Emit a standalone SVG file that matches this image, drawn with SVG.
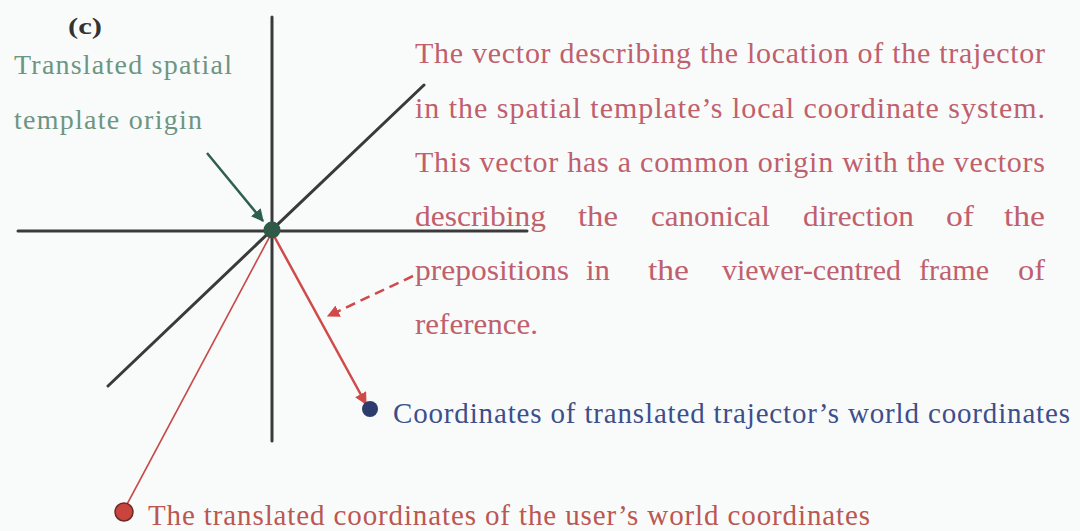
<svg xmlns="http://www.w3.org/2000/svg" width="1080" height="531" viewBox="0 0 1080 531">
<defs>
<style>
.axis{stroke:#3a3a3a;stroke-width:3;fill:none;stroke-linecap:round}
text{font-family:'Liberation Serif','Times New Roman',Times,serif}
.pink{fill:#c0606c;font-size:30px}
.green{fill:#6d9582;font-size:28px}
.blue{fill:#3d4f8a;font-size:29px}
.red{fill:#bb5752;font-size:29px}
</style>
<marker id="ahG" viewBox="0 0 10 10" refX="9" refY="5" markerWidth="5" markerHeight="5" orient="auto"><path d="M0,0 L10,5 L0,10 z" fill="#2f5f4f"/></marker>
<marker id="ahR" viewBox="0 0 10 10" refX="9" refY="5" markerWidth="5" markerHeight="5" orient="auto"><path d="M0,0 L10,5 L0,10 z" fill="#d04a4a"/></marker>
</defs>
<rect width="1080" height="531" fill="#f9fbfb"/>
<g id="axes">
<line class="axis" x1="272" y1="17" x2="272" y2="441"/>
<line class="axis" x1="18" y1="231" x2="527" y2="231"/>
<line class="axis" x1="108" y1="386" x2="424" y2="85"/>
</g>
<g id="connectors">
<line x1="207" y1="153" x2="263" y2="221" stroke="#2f5f4f" stroke-width="2.5" marker-end="url(#ahG)"/>
<line x1="270" y1="236" x2="124" y2="510" stroke="#c84a4a" stroke-width="1.6"/>
<line x1="274" y1="236" x2="366" y2="404" stroke="#d04a4a" stroke-width="2.5" marker-end="url(#ahR)"/>
<line x1="413" y1="276" x2="328" y2="316" stroke="#d04a4a" stroke-width="2.5" stroke-dasharray="10,6" marker-end="url(#ahR)"/>
</g>
<g id="origin"><circle cx="272" cy="230" r="8.5" fill="#2f5a48"/></g>
<g id="trajector"><circle cx="370" cy="409" r="8" fill="#2c3c6c"/></g>
<g id="user"><circle cx="124" cy="512" r="9" fill="#c8443c" stroke="#6a2a28" stroke-width="1.5"/></g>
<g id="labels">
<text x="68" y="34" font-size="24" font-weight="bold" fill="#333" textLength="34" lengthAdjust="spacingAndGlyphs">(c)</text>
<text class="green" x="14" y="74" textLength="218" lengthAdjust="spacing">Translated spatial</text>
<text class="green" x="14" y="129" textLength="188" lengthAdjust="spacing">template origin</text>
<text class="pink" x="415" y="63" textLength="630" lengthAdjust="spacing">The vector describing the location of the trajector</text>
<text class="pink" x="415" y="118" textLength="630" lengthAdjust="spacing">in the spatial template’s local coordinate system.</text>
<text class="pink" x="415" y="172" textLength="630" lengthAdjust="spacing">This vector has a common origin with the vectors</text>
<text class="pink" x="415" y="226" textLength="131" lengthAdjust="spacingAndGlyphs">describing</text>
<text class="pink" x="578" y="226" textLength="40" lengthAdjust="spacingAndGlyphs">the</text>
<text class="pink" x="651" y="226" textLength="119" lengthAdjust="spacingAndGlyphs">canonical</text>
<text class="pink" x="803" y="226" textLength="111" lengthAdjust="spacingAndGlyphs">direction</text>
<text class="pink" x="946" y="226" textLength="28" lengthAdjust="spacingAndGlyphs">of</text>
<text class="pink" x="1004" y="226" textLength="41" lengthAdjust="spacingAndGlyphs">the</text>
<text class="pink" x="415" y="280" textLength="154" lengthAdjust="spacingAndGlyphs">prepositions</text>
<text class="pink" x="586" y="280" textLength="24" lengthAdjust="spacingAndGlyphs">in</text>
<text class="pink" x="648" y="280" textLength="41" lengthAdjust="spacingAndGlyphs">the</text>
<text class="pink" x="722" y="280" textLength="179" lengthAdjust="spacingAndGlyphs">viewer-centred</text>
<text class="pink" x="919" y="280" textLength="70" lengthAdjust="spacingAndGlyphs">frame</text>
<text class="pink" x="1018" y="280" textLength="27" lengthAdjust="spacingAndGlyphs">of</text>
<text class="pink" x="415" y="334" textLength="123" lengthAdjust="spacingAndGlyphs">reference.</text>
<text class="blue" x="393" y="423" textLength="677" lengthAdjust="spacing">Coordinates of translated trajector’s world coordinates</text>
<text class="red" x="148" y="525" textLength="722" lengthAdjust="spacing">The translated coordinates of the user’s world coordinates</text>
</g>
</svg>
